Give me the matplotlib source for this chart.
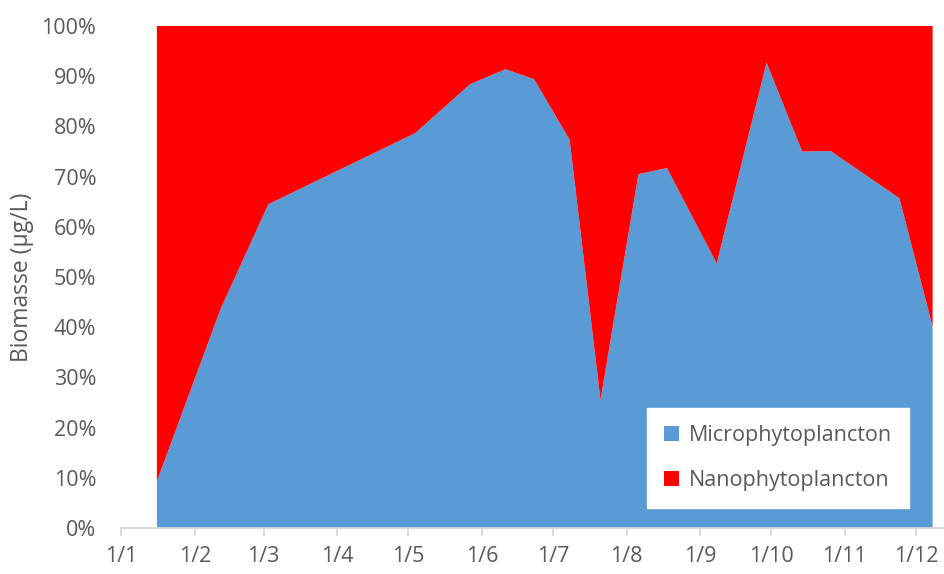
import datetime as dt
import matplotlib
matplotlib.use("Agg")
import matplotlib.pyplot as plt
import matplotlib.dates as mdates
from matplotlib.ticker import FuncFormatter, MultipleLocator

# données (fraction de la biomasse totale)
dates = ["2016-01-16", "2016-02-12", "2016-03-03", "2016-05-04", "2016-05-27",
         "2016-06-11", "2016-06-23", "2016-07-08", "2016-07-21", "2016-08-06",
         "2016-08-18", "2016-09-08", "2016-09-29", "2016-10-14", "2016-10-26",
         "2016-11-24", "2016-12-08"]
micro = [9.3, 43.8, 64.5, 78.7, 88.4, 91.4, 89.4, 77.3, 25.5, 70.5,
         71.7, 52.7, 92.7, 75.0, 75.1, 65.7, 40.1]
nano = [100 - m for m in micro]
series_names = ["Microphytoplancton", "Nanophytoplancton"]
month_ticks = ["2016-%02d-01" % m for m in range(1, 13)]

x = [dt.datetime.strptime(d, "%Y-%m-%d") for d in dates]
ticks = [dt.datetime.strptime(d, "%Y-%m-%d") for d in month_ticks]

plt.rcParams['font.family'] = ['Open Sans', 'DejaVu Sans']
grey = '#595959'

fig = plt.figure(figsize=(9.44, 5.74), dpi=100)
ax = fig.add_axes([0.1285, 0.0801, 0.8715, 0.8746])

ax.stackplot(x, micro, nano, colors=['#5B9BD5', '#FF0000'],
             labels=series_names, linewidth=0)

ax.set_xlim(dt.datetime(2016, 1, 1), dt.datetime(2016, 1, 1) + dt.timedelta(days=346.8))
ax.set_ylim(0, 100)

ax.set_xticks(ticks)
ax.xaxis.set_major_formatter(FuncFormatter(
    lambda v, p: "%d/%d" % (mdates.num2date(v).day, mdates.num2date(v).month)))
ax.yaxis.set_major_locator(MultipleLocator(10))
ax.yaxis.set_major_formatter(FuncFormatter(lambda v, p: "%d%%" % v))

for s in ['top', 'right', 'left']:
    ax.spines[s].set_visible(False)
ax.spines['bottom'].set_color('#d9d9d9')
ax.spines['bottom'].set_linewidth(1.3)

ax.tick_params(axis='x', colors='#d9d9d9', length=6, width=1.3, labelcolor=grey,
               labelsize=15.5, pad=7)
ax.tick_params(axis='y', length=0, labelcolor=grey, labelsize=15.5, pad=18)

ax.set_ylabel("Biomasse (µg/L)", color=grey, fontsize=16.5, va='center')
ax.yaxis.set_label_coords(-0.121, 0.5)

leg = ax.legend(loc='center', bbox_to_anchor=(0.798, 0.139), frameon=True,
                fancybox=False, framealpha=1, edgecolor='white', facecolor='white',
                fontsize=15.5, handlelength=0.7, handleheight=0.7,
                labelspacing=1.1, borderpad=0.8, handletextpad=0.45)
for t in leg.get_texts():
    t.set_color(grey)

plt.savefig("out.png", dpi=100)
